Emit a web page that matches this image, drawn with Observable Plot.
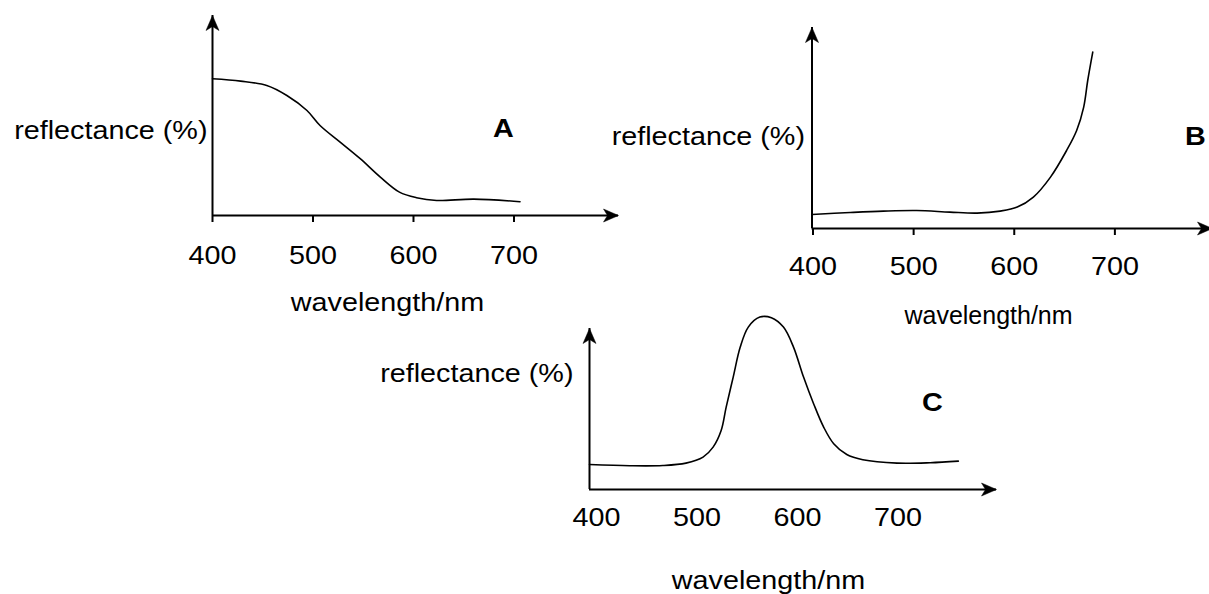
<!DOCTYPE html>
<html>
<head>
<meta charset="utf-8">
<script src="https://cdn.jsdelivr.net/npm/d3@7"></script>
<script src="https://cdn.jsdelivr.net/npm/@observablehq/plot@0.6"></script>
<style>
  html, body { margin: 0; padding: 0; background: #fff; }
  #chart { position: relative; width: 1209px; height: 594px; overflow: hidden; background: #fff; }
  #chart svg { position: absolute; left: 0; top: 0; }
</style>
</head>
<body>
<div id="chart"></div>
<script>
// ---- data ----
const tickValues = [400, 500, 600, 700];
const yLabel = "reflectance (%)";
const xLabel = "wavelength/nm";
const panelNames = ["A", "B", "C"];

const aWave = [400, 428, 454, 474, 494, 507, 527, 547, 567, 586, 603, 623, 660, 706];
const aRefl = [68.4, 67.2, 65, 60, 52.5, 45, 36.7, 28.4, 19.2, 11.7, 8.9, 7.5, 8.2, 6.9];

const bWave = [400, 438, 471, 504, 537, 564, 587, 604, 620, 637, 653, 663, 670, 674, 679];
const bRefl = [7.0, 8.0, 8.7, 9.0, 8.2, 7.7, 8.7, 10.7, 15.7, 25.7, 39, 49, 60.7, 74, 88.2];

const cWave = [400, 440, 473, 496, 513, 523, 531, 536, 543, 550, 558, 569.5, 581, 593, 603, 613, 623, 633, 643, 656, 672, 706, 739, 767];
const cRefl = [12.5, 11.9, 12, 13.2, 16.2, 21.2, 29.5, 41.2, 56.2, 71.2, 81.2, 86.2, 85.9, 81.2, 71.2, 56.2, 42.9, 31.2, 22.9, 17.5, 14.9, 13.2, 13.4, 14.2];

// ---- helpers ----
const W = 1209, H = 594;
const arrowHead = {
  draw(ctx) {
    ctx.moveTo(0, 0);
    ctx.lineTo(-6.5, 15);
    ctx.lineTo(0, 11);
    ctx.lineTo(6.5, 15);
    ctx.closePath();
  }
};

// horizontally widen text glyphs around their anchor point (reference type is stretched)
function stretch(svg, s, keep) {
  d3.select(svg).selectAll("text").each(function() {
    const k = (keep && this.textContent === keep) ? 1.0 : s;
    const x = +this.getAttribute("x") || 0, y = +this.getAttribute("y") || 0;
    const t = this.getAttribute("transform") || "";
    this.setAttribute("transform", `${t} translate(${x},${y}) scale(${k},1) translate(${-x},${-y})`);
  });
}

function panel(cfg) {
  const data = cfg.wave.map((w, i) => ({wl: w, r: cfg.refl[i]}));
  const svg = Plot.plot({
    width: W, height: H,
    marginLeft: cfg.left, marginRight: W - cfg.right,
    marginTop: cfg.top, marginBottom: H - cfg.bottom,
    style: {
      background: "transparent",
      fontFamily: "'Liberation Sans', Arial, sans-serif",
      fontSize: "25px",
      color: "black",
      overflow: "visible"
    },
    x: {domain: [400, cfg.xEnd], axis: null},
    y: {domain: [0, cfg.yTop], axis: null},
    marks: [
      Plot.ruleX([400], {stroke: "black", strokeWidth: 2}),
      Plot.ruleY([0], {stroke: "black", strokeWidth: 2}),
      Plot.dot([0], {frameAnchor: "top-left", symbol: arrowHead, fill: "black", stroke: "black", strokeWidth: 0.5, r: 5}),
      Plot.dot([0], {frameAnchor: "bottom-right", symbol: arrowHead, rotate: 90, fill: "black", stroke: "black", strokeWidth: 0.5, r: 5}),
      Plot.axisX(tickValues, {
        anchor: "bottom",
        tickSize: cfg.tickSize,
        tickPadding: cfg.tickPadding,
        tickFormat: d => String(d),
        label: null,
        stroke: "black",
        strokeWidth: 2,
        fill: "black",
        fontSize: 25,
        dx: cfg.tickDx
      }),
      Plot.line(data, {x: "wl", y: "r", curve: "catmull-rom", stroke: "black", strokeWidth: 1.6}),
      Plot.text([yLabel], {text: d => d, frameAnchor: "left", textAnchor: "end", lineAnchor: "bottom", dx: cfg.yLab[0], dy: cfg.yLab[1], fill: "black", fontSize: 25}),
      Plot.text([xLabel], {text: d => d, frameAnchor: "bottom", textAnchor: "middle", lineAnchor: "bottom", dx: cfg.xLab[0], dy: cfg.xLab[1], fill: "black", fontSize: 25}),
      Plot.text([cfg.name], {text: d => d, frameAnchor: cfg.nameAnchor, textAnchor: "middle", lineAnchor: "bottom", dx: cfg.nameOff[0], dy: cfg.nameOff[1], fill: "black", fontWeight: "bold", fontSize: 25})
    ]
  });
  stretch(svg, 1.15, cfg.tightX ? xLabel : null);
  return svg;
}

const chart = document.getElementById("chart");

chart.appendChild(panel({
  wave: aWave, refl: aRefl, xEnd: 804, yTop: 100,
  left: 212, right: 618, top: 15, bottom: 215,
  tickSize: 7, tickPadding: 24, tickDx: 0,
  yLab: [-5, 23.3], xLab: [-28, 95],
  name: panelNames[0], nameAnchor: "middle", nameOff: [88, 21]
}));

chart.appendChild(panel({
  wave: bWave, refl: bRefl, xEnd: 798, yTop: 100.5,
  left: 811.5, right: 1212, top: 27, bottom: 228,
  tickSize: 7, tickPadding: 21.5, tickDx: 1,
  yLab: [-7, 16.5], xLab: [-23.75, 95],
  name: panelNames[1], nameAnchor: "right", nameOff: [-17, 16.5],
  tightX: true
}));

chart.appendChild(panel({
  wave: cWave, refl: cRefl, xEnd: 805, yTop: 80.5,
  left: 589, right: 996, top: 328, bottom: 489,
  tickSize: 0, tickPadding: 19, tickDx: 7,
  yLab: [-16, -26.8], xLab: [-24.5, 99.3],
  name: panelNames[2], nameAnchor: "middle", nameOff: [139.5, 1.5]
}));
</script>
</body>
</html>
